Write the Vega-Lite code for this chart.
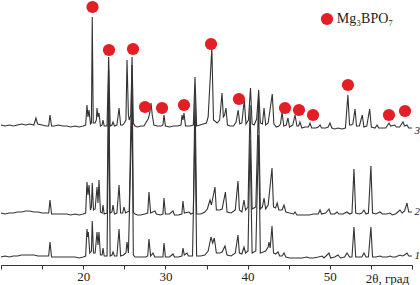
{
  "$schema": "https://vega.github.io/schema/vega-lite/v6.json",
  "width": 411,
  "height": 265,
  "autosize": {"type": "none"},
  "padding": {"left": 1, "top": 0, "right": 8, "bottom": 20},
  "background": "white",
  "config": {"view": {"stroke": null}},
  "datasets": {
    "curves": [
      {"c":3,"t":10,"v":140},{"c":3,"t":10.5,"v":139},{"c":3,"t":11,"v":140},{"c":3,"t":11.5,"v":139},{"c":3,"t":12,"v":140},{"c":3,"t":12.5,"v":141},{"c":3,"t":13,"v":140},{"c":3,"t":13.5,"v":141},{"c":3,"t":14,"v":140},{"c":3,"t":14.25,"v":147},{"c":3,"t":14.45,"v":141},{"c":3,"t":15,"v":140},{"c":3,"t":15.5,"v":139},{"c":3,"t":15.8,"v":139},{"c":3,"t":15.96,"v":150},{"c":3,"t":16.15,"v":139},{"c":3,"t":16.5,"v":139},{"c":3,"t":17,"v":140},{"c":3,"t":17.5,"v":139},{"c":3,"t":18,"v":139},{"c":3,"t":18.5,"v":138},{"c":3,"t":19,"v":139},{"c":3,"t":19.5,"v":138},{"c":3,"t":20,"v":139},{"c":3,"t":20.3,"v":140},{"c":3,"t":20.46,"v":160},{"c":3,"t":20.58,"v":148},{"c":3,"t":20.71,"v":155},{"c":3,"t":20.88,"v":141},{"c":3,"t":21,"v":142},{"c":3,"t":21.1,"v":248},{"c":3,"t":21.22,"v":142},{"c":3,"t":21.45,"v":142},{"c":3,"t":21.6,"v":145},{"c":3,"t":21.68,"v":157},{"c":3,"t":21.8,"v":148},{"c":3,"t":21.92,"v":152},{"c":3,"t":22.1,"v":139},{"c":3,"t":22.3,"v":140},{"c":3,"t":22.41,"v":145},{"c":3,"t":22.55,"v":139},{"c":3,"t":22.9,"v":139},{"c":3,"t":23.1,"v":208},{"c":3,"t":23.28,"v":139},{"c":3,"t":23.5,"v":140},{"c":3,"t":23.63,"v":143},{"c":3,"t":23.8,"v":139},{"c":3,"t":24.1,"v":140},{"c":3,"t":24.36,"v":157},{"c":3,"t":24.55,"v":140},{"c":3,"t":24.8,"v":140},{"c":3,"t":25,"v":142},{"c":3,"t":25.2,"v":145},{"c":3,"t":25.33,"v":205},{"c":3,"t":25.5,"v":150},{"c":3,"t":25.6,"v":145},{"c":3,"t":25.8,"v":150},{"c":3,"t":25.94,"v":208},{"c":3,"t":26.1,"v":142},{"c":3,"t":26.3,"v":139},{"c":3,"t":26.6,"v":138},{"c":3,"t":27,"v":139},{"c":3,"t":27.4,"v":139},{"c":3,"t":27.6,"v":142},{"c":3,"t":27.9,"v":146},{"c":3,"t":28.1,"v":152},{"c":3,"t":28.25,"v":162},{"c":3,"t":28.4,"v":150},{"c":3,"t":28.6,"v":140},{"c":3,"t":29,"v":139},{"c":3,"t":29.5,"v":139},{"c":3,"t":29.7,"v":140},{"c":3,"t":29.83,"v":150},{"c":3,"t":30,"v":139},{"c":3,"t":30.5,"v":138},{"c":3,"t":31,"v":139},{"c":3,"t":31.5,"v":139},{"c":3,"t":31.9,"v":140},{"c":3,"t":32.02,"v":150},{"c":3,"t":32.14,"v":145},{"c":3,"t":32.26,"v":152},{"c":3,"t":32.45,"v":139},{"c":3,"t":33,"v":139},{"c":3,"t":33.4,"v":140},{"c":3,"t":33.6,"v":188},{"c":3,"t":33.8,"v":139},{"c":3,"t":34.2,"v":140},{"c":3,"t":34.6,"v":141},{"c":3,"t":35,"v":142},{"c":3,"t":35.2,"v":148},{"c":3,"t":35.65,"v":217},{"c":3,"t":35.85,"v":145},{"c":3,"t":36.3,"v":142},{"c":3,"t":36.6,"v":145},{"c":3,"t":36.89,"v":172},{"c":3,"t":37.05,"v":148},{"c":3,"t":37.2,"v":150},{"c":3,"t":37.37,"v":157},{"c":3,"t":37.55,"v":140},{"c":3,"t":37.9,"v":139},{"c":3,"t":38.3,"v":139},{"c":3,"t":38.6,"v":143},{"c":3,"t":38.85,"v":155},{"c":3,"t":39.05,"v":141},{"c":3,"t":39.3,"v":142},{"c":3,"t":39.6,"v":165},{"c":3,"t":39.8,"v":141},{"c":3,"t":40.1,"v":145},{"c":3,"t":40.35,"v":177},{"c":3,"t":40.55,"v":141},{"c":3,"t":40.8,"v":140},{"c":3,"t":41.1,"v":146},{"c":3,"t":41.35,"v":175},{"c":3,"t":41.55,"v":142},{"c":3,"t":41.8,"v":141},{"c":3,"t":42,"v":157},{"c":3,"t":42.2,"v":140},{"c":3,"t":42.5,"v":142},{"c":3,"t":43,"v":171},{"c":3,"t":43.2,"v":141},{"c":3,"t":43.5,"v":138},{"c":3,"t":43.8,"v":139},{"c":3,"t":44,"v":141},{"c":3,"t":44.19,"v":153},{"c":3,"t":44.4,"v":139},{"c":3,"t":44.7,"v":140},{"c":3,"t":44.91,"v":147},{"c":3,"t":45.1,"v":138},{"c":3,"t":45.5,"v":140},{"c":3,"t":45.77,"v":150},{"c":3,"t":46,"v":139},{"c":3,"t":46.2,"v":139},{"c":3,"t":46.37,"v":143},{"c":3,"t":46.6,"v":137},{"c":3,"t":47,"v":138},{"c":3,"t":47.4,"v":138},{"c":3,"t":47.59,"v":142},{"c":3,"t":47.8,"v":137},{"c":3,"t":48.3,"v":137},{"c":3,"t":48.6,"v":138},{"c":3,"t":48.81,"v":140},{"c":3,"t":49,"v":137},{"c":3,"t":49.5,"v":137},{"c":3,"t":49.8,"v":138},{"c":3,"t":50.02,"v":142},{"c":3,"t":50.25,"v":137},{"c":3,"t":50.6,"v":136},{"c":3,"t":51,"v":137},{"c":3,"t":51.5,"v":136},{"c":3,"t":51.9,"v":137},{"c":3,"t":52.2,"v":170},{"c":3,"t":52.4,"v":140},{"c":3,"t":52.6,"v":140},{"c":3,"t":52.8,"v":141},{"c":3,"t":53.07,"v":156},{"c":3,"t":53.25,"v":139},{"c":3,"t":53.6,"v":139},{"c":3,"t":53.95,"v":150},{"c":3,"t":54.15,"v":138},{"c":3,"t":54.5,"v":139},{"c":3,"t":54.85,"v":156},{"c":3,"t":55.05,"v":138},{"c":3,"t":55.5,"v":137},{"c":3,"t":55.75,"v":140},{"c":3,"t":55.95,"v":137},{"c":3,"t":56.3,"v":137},{"c":3,"t":56.8,"v":137},{"c":3,"t":57.2,"v":142},{"c":3,"t":57.4,"v":139},{"c":3,"t":57.9,"v":140},{"c":3,"t":58.1,"v":138},{"c":3,"t":58.5,"v":138},{"c":3,"t":58.9,"v":143},{"c":3,"t":59.1,"v":139},{"c":3,"t":59.39,"v":140},{"c":3,"t":59.6,"v":137},{"c":3,"t":60,"v":137},

      {"c":2,"t":10,"v":52},{"c":2,"t":10.5,"v":51},{"c":2,"t":11,"v":52},{"c":2,"t":11.5,"v":52},{"c":2,"t":12,"v":53},{"c":2,"t":12.5,"v":53},{"c":2,"t":13,"v":54},{"c":2,"t":13.5,"v":54},{"c":2,"t":14,"v":53},{"c":2,"t":14.5,"v":53},{"c":2,"t":15,"v":52},{"c":2,"t":15.5,"v":52},{"c":2,"t":15.8,"v":52},{"c":2,"t":15.96,"v":65},{"c":2,"t":16.15,"v":51},{"c":2,"t":16.5,"v":51},{"c":2,"t":17,"v":51},{"c":2,"t":17.5,"v":51},{"c":2,"t":18,"v":51},{"c":2,"t":18.5,"v":50},{"c":2,"t":19,"v":51},{"c":2,"t":19.5,"v":50},{"c":2,"t":20,"v":51},{"c":2,"t":20.3,"v":52},{"c":2,"t":20.46,"v":83},{"c":2,"t":20.58,"v":70},{"c":2,"t":20.71,"v":80},{"c":2,"t":20.88,"v":55},{"c":2,"t":21,"v":58},{"c":2,"t":21.1,"v":82},{"c":2,"t":21.25,"v":55},{"c":2,"t":21.45,"v":56},{"c":2,"t":21.68,"v":78},{"c":2,"t":21.8,"v":62},{"c":2,"t":21.92,"v":85},{"c":2,"t":22.1,"v":53},{"c":2,"t":22.3,"v":52},{"c":2,"t":22.41,"v":60},{"c":2,"t":22.55,"v":51},{"c":2,"t":22.9,"v":52},{"c":2,"t":23.1,"v":195},{"c":2,"t":23.28,"v":52},{"c":2,"t":23.5,"v":53},{"c":2,"t":23.63,"v":60},{"c":2,"t":23.8,"v":51},{"c":2,"t":24.1,"v":52},{"c":2,"t":24.36,"v":80},{"c":2,"t":24.55,"v":52},{"c":2,"t":24.8,"v":52},{"c":2,"t":24.96,"v":58},{"c":2,"t":25.15,"v":52},{"c":2,"t":25.6,"v":54},{"c":2,"t":25.94,"v":200},{"c":2,"t":26.1,"v":53},{"c":2,"t":26.3,"v":51},{"c":2,"t":26.6,"v":50},{"c":2,"t":27,"v":50},{"c":2,"t":27.5,"v":51},{"c":2,"t":27.85,"v":52},{"c":2,"t":28,"v":73},{"c":2,"t":28.2,"v":52},{"c":2,"t":28.73,"v":54},{"c":2,"t":28.9,"v":51},{"c":2,"t":29.4,"v":50},{"c":2,"t":29.7,"v":51},{"c":2,"t":29.83,"v":67},{"c":2,"t":30,"v":51},{"c":2,"t":30.5,"v":51},{"c":2,"t":30.92,"v":54},{"c":2,"t":31.1,"v":50},{"c":2,"t":31.6,"v":50},{"c":2,"t":32,"v":51},{"c":2,"t":32.14,"v":64},{"c":2,"t":32.3,"v":52},{"c":2,"t":32.87,"v":53},{"c":2,"t":33.1,"v":51},{"c":2,"t":33.4,"v":52},{"c":2,"t":33.6,"v":175},{"c":2,"t":33.8,"v":51},{"c":2,"t":34.3,"v":51},{"c":2,"t":34.8,"v":53},{"c":2,"t":35.1,"v":56},{"c":2,"t":35.43,"v":65},{"c":2,"t":35.6,"v":60},{"c":2,"t":36.03,"v":78},{"c":2,"t":36.2,"v":55},{"c":2,"t":36.6,"v":55},{"c":2,"t":36.9,"v":56},{"c":2,"t":37.3,"v":73},{"c":2,"t":37.5,"v":53},{"c":2,"t":38,"v":52},{"c":2,"t":38.5,"v":55},{"c":2,"t":38.83,"v":84},{"c":2,"t":39,"v":55},{"c":2,"t":39.3,"v":53},{"c":2,"t":39.56,"v":65},{"c":2,"t":39.75,"v":55},{"c":2,"t":40.05,"v":58},{"c":2,"t":40.3,"v":160},{"c":2,"t":40.55,"v":56},{"c":2,"t":41,"v":58},{"c":2,"t":41.33,"v":165},{"c":2,"t":41.55,"v":56},{"c":2,"t":41.8,"v":58},{"c":2,"t":42,"v":67},{"c":2,"t":42.2,"v":56},{"c":2,"t":42.5,"v":60},{"c":2,"t":42.97,"v":97},{"c":2,"t":43.15,"v":58},{"c":2,"t":43.4,"v":57},{"c":2,"t":43.6,"v":62},{"c":2,"t":43.8,"v":55},{"c":2,"t":44.2,"v":55},{"c":2,"t":44.43,"v":60},{"c":2,"t":44.65,"v":53},{"c":2,"t":45.1,"v":52},{"c":2,"t":45.6,"v":51},{"c":2,"t":45.77,"v":53},{"c":2,"t":46,"v":50},{"c":2,"t":46.5,"v":50},{"c":2,"t":47,"v":50},{"c":2,"t":47.5,"v":50},{"c":2,"t":48,"v":51},{"c":2,"t":48.6,"v":51},{"c":2,"t":48.81,"v":55},{"c":2,"t":49,"v":51},{"c":2,"t":49.5,"v":52},{"c":2,"t":49.9,"v":56},{"c":2,"t":50.1,"v":51},{"c":2,"t":50.6,"v":51},{"c":2,"t":50.88,"v":53},{"c":2,"t":51.1,"v":51},{"c":2,"t":51.6,"v":51},{"c":2,"t":52.09,"v":53},{"c":2,"t":52.4,"v":51},{"c":2,"t":52.7,"v":52},{"c":2,"t":52.94,"v":96},{"c":2,"t":53.15,"v":52},{"c":2,"t":53.6,"v":51},{"c":2,"t":53.9,"v":52},{"c":2,"t":54.16,"v":55},{"c":2,"t":54.4,"v":51},{"c":2,"t":54.7,"v":52},{"c":2,"t":55,"v":99},{"c":2,"t":55.2,"v":52},{"c":2,"t":55.6,"v":51},{"c":2,"t":56.1,"v":53},{"c":2,"t":56.4,"v":51},{"c":2,"t":56.9,"v":51},{"c":2,"t":57.32,"v":52},{"c":2,"t":57.6,"v":50},{"c":2,"t":58,"v":51},{"c":2,"t":58.54,"v":55},{"c":2,"t":58.8,"v":52},{"c":2,"t":59.1,"v":54},{"c":2,"t":59.39,"v":62},{"c":2,"t":59.6,"v":53},{"c":2,"t":60,"v":53},

      {"c":1,"t":10,"v":8},{"c":1,"t":10.5,"v":9},{"c":1,"t":11,"v":8},{"c":1,"t":11.5,"v":9},{"c":1,"t":12,"v":9},{"c":1,"t":12.5,"v":10},{"c":1,"t":13,"v":10},{"c":1,"t":13.5,"v":10},{"c":1,"t":14,"v":10},{"c":1,"t":14.5,"v":9},{"c":1,"t":15,"v":9},{"c":1,"t":15.5,"v":9},{"c":1,"t":15.8,"v":9},{"c":1,"t":15.96,"v":23},{"c":1,"t":16.15,"v":8},{"c":1,"t":16.5,"v":8},{"c":1,"t":17,"v":8},{"c":1,"t":17.5,"v":8},{"c":1,"t":18,"v":8},{"c":1,"t":18.5,"v":8},{"c":1,"t":19,"v":8},{"c":1,"t":19.5,"v":7},{"c":1,"t":20,"v":8},{"c":1,"t":20.3,"v":9},{"c":1,"t":20.46,"v":36},{"c":1,"t":20.55,"v":28},{"c":1,"t":20.62,"v":33},{"c":1,"t":20.8,"v":12},{"c":1,"t":21,"v":14},{"c":1,"t":21.1,"v":44},{"c":1,"t":21.25,"v":12},{"c":1,"t":21.45,"v":12},{"c":1,"t":21.68,"v":33},{"c":1,"t":21.8,"v":20},{"c":1,"t":21.92,"v":33},{"c":1,"t":22.1,"v":10},{"c":1,"t":22.3,"v":10},{"c":1,"t":22.41,"v":17},{"c":1,"t":22.55,"v":9},{"c":1,"t":22.9,"v":9},{"c":1,"t":23.1,"v":165},{"c":1,"t":23.28,"v":9},{"c":1,"t":23.5,"v":10},{"c":1,"t":23.63,"v":13},{"c":1,"t":23.8,"v":9},{"c":1,"t":24.1,"v":9},{"c":1,"t":24.36,"v":36},{"c":1,"t":24.55,"v":9},{"c":1,"t":24.9,"v":10},{"c":1,"t":25.2,"v":12},{"c":1,"t":25.33,"v":23},{"c":1,"t":25.5,"v":12},{"c":1,"t":25.94,"v":160},{"c":1,"t":26.1,"v":10},{"c":1,"t":26.3,"v":8},{"c":1,"t":26.7,"v":8},{"c":1,"t":27.2,"v":8},{"c":1,"t":27.6,"v":8},{"c":1,"t":27.85,"v":9},{"c":1,"t":28,"v":26},{"c":1,"t":28.2,"v":9},{"c":1,"t":28.49,"v":12},{"c":1,"t":28.7,"v":8},{"c":1,"t":29.2,"v":8},{"c":1,"t":29.7,"v":8},{"c":1,"t":29.83,"v":22},{"c":1,"t":30,"v":8},{"c":1,"t":30.5,"v":8},{"c":1,"t":30.92,"v":11},{"c":1,"t":31.1,"v":8},{"c":1,"t":31.6,"v":8},{"c":1,"t":32,"v":9},{"c":1,"t":32.14,"v":17},{"c":1,"t":32.3,"v":10},{"c":1,"t":32.63,"v":12},{"c":1,"t":32.8,"v":9},{"c":1,"t":33.3,"v":9},{"c":1,"t":33.6,"v":140},{"c":1,"t":33.8,"v":9},{"c":1,"t":34.3,"v":9},{"c":1,"t":34.8,"v":10},{"c":1,"t":35.2,"v":14},{"c":1,"t":35.55,"v":28},{"c":1,"t":35.75,"v":22},{"c":1,"t":35.95,"v":27},{"c":1,"t":36.2,"v":12},{"c":1,"t":36.6,"v":12},{"c":1,"t":36.9,"v":13},{"c":1,"t":37.25,"v":19},{"c":1,"t":37.5,"v":10},{"c":1,"t":38,"v":9},{"c":1,"t":38.5,"v":12},{"c":1,"t":38.83,"v":30},{"c":1,"t":39,"v":12},{"c":1,"t":39.3,"v":11},{"c":1,"t":39.56,"v":18},{"c":1,"t":39.75,"v":12},{"c":1,"t":40.05,"v":14},{"c":1,"t":40.3,"v":125},{"c":1,"t":40.55,"v":12},{"c":1,"t":41,"v":14},{"c":1,"t":41.33,"v":130},{"c":1,"t":41.55,"v":12},{"c":1,"t":41.9,"v":13},{"c":1,"t":42.2,"v":14},{"c":1,"t":42.5,"v":18},{"c":1,"t":42.6,"v":23},{"c":1,"t":42.75,"v":17},{"c":1,"t":42.97,"v":39},{"c":1,"t":43.15,"v":12},{"c":1,"t":43.4,"v":11},{"c":1,"t":43.7,"v":13},{"c":1,"t":43.9,"v":9},{"c":1,"t":44.2,"v":9},{"c":1,"t":44.43,"v":12},{"c":1,"t":44.65,"v":8},{"c":1,"t":45.1,"v":7},{"c":1,"t":45.6,"v":7},{"c":1,"t":46.1,"v":7},{"c":1,"t":46.6,"v":7},{"c":1,"t":47.23,"v":8},{"c":1,"t":47.5,"v":7},{"c":1,"t":48,"v":7},{"c":1,"t":48.6,"v":8},{"c":1,"t":49.06,"v":9},{"c":1,"t":49.3,"v":7},{"c":1,"t":49.9,"v":12},{"c":1,"t":50.1,"v":7},{"c":1,"t":50.6,"v":8},{"c":1,"t":51,"v":10},{"c":1,"t":51.3,"v":7},{"c":1,"t":51.8,"v":8},{"c":1,"t":52.09,"v":12},{"c":1,"t":52.4,"v":8},{"c":1,"t":52.7,"v":8},{"c":1,"t":52.94,"v":38},{"c":1,"t":53.15,"v":8},{"c":1,"t":53.6,"v":8},{"c":1,"t":53.9,"v":8},{"c":1,"t":54.16,"v":12},{"c":1,"t":54.4,"v":8},{"c":1,"t":54.7,"v":8},{"c":1,"t":55,"v":38},{"c":1,"t":55.2,"v":8},{"c":1,"t":55.6,"v":8},{"c":1,"t":56.11,"v":9},{"c":1,"t":56.4,"v":8},{"c":1,"t":57,"v":8},{"c":1,"t":57.32,"v":9},{"c":1,"t":57.6,"v":8},{"c":1,"t":58,"v":8},{"c":1,"t":58.54,"v":10},{"c":1,"t":58.8,"v":9},{"c":1,"t":59.1,"v":10},{"c":1,"t":59.39,"v":12},{"c":1,"t":59.6,"v":9},{"c":1,"t":60,"v":9}
    ],
    "dots": [
      {"t":21.13,"v":258},{"t":23.14,"v":215},{"t":26.06,"v":216},{"t":27.52,"v":158},{"t":29.59,"v":157},{"t":32.26,"v":160},{"t":35.55,"v":221},{"t":38.95,"v":166},{"t":44.55,"v":157},{"t":46.25,"v":155},{"t":47.96,"v":150},{"t":52.21,"v":180},{"t":57.2,"v":150},{"t":59.15,"v":154},{"t":49.66,"v":246}
    ],
    "legend": [{"t":50.85,"v":246,"s":"Mg₃BPO₇"}],
    "names": [{"t":60.3,"v":134,"s":"3"},{"t":60.3,"v":53,"s":"2"},{"t":60.3,"v":9,"s":"1"}]
  },
  "layer": [
    {
      "data": {"name": "curves"},
      "mark": {"type": "line", "color": "#333333", "strokeWidth": 1.1},
      "encoding": {
        "x": {"field": "t", "type": "quantitative", "scale": {"domain": [10, 60], "nice": false},
          "axis": {"values": [10,15,20,25,30,35,40,45,50,55,60],
            "labelExpr": "datum.value==20||datum.value==30||datum.value==40||datum.value==50 ? datum.label : ''",
            "grid": false, "domainColor": "#333", "tickColor": "#333", "tickSize": 4,
            "labelFont": "Liberation Serif", "labelFontSize": 13, "labelColor": "#222", "labelPadding": 1, "labelFlush": false,
            "title": "2θ, град", "titleFont": "Liberation Serif", "titleFontSize": 13, "titleFontWeight": "normal", "titleColor": "#222",
            "titleX": 386, "titleY": 13, "titleAlign": "center", "titleBaseline": "middle"}},
        "y": {"field": "v", "type": "quantitative", "scale": {"domain": [0, 265], "nice": false}, "axis": null},
        "detail": {"field": "c"}
      }
    },
    {
      "data": {"name": "dots"},
      "mark": {"type": "circle", "color": "#e31e24", "opacity": 1, "size": 150},
      "encoding": {
        "x": {"field": "t", "type": "quantitative"},
        "y": {"field": "v", "type": "quantitative"}
      }
    },
    {
      "data": {"name": "legend"},
      "mark": {"type": "text", "align": "left", "baseline": "middle", "font": "Liberation Serif", "fontSize": 14, "color": "#222"},
      "encoding": {
        "x": {"field": "t", "type": "quantitative"},
        "y": {"field": "v", "type": "quantitative"},
        "text": {"field": "s"}
      }
    },
    {
      "data": {"name": "names"},
      "mark": {"type": "text", "align": "left", "baseline": "middle", "font": "Liberation Serif", "fontSize": 11, "fontStyle": "italic", "color": "#222"},
      "encoding": {
        "x": {"field": "t", "type": "quantitative"},
        "y": {"field": "v", "type": "quantitative"},
        "text": {"field": "s"}
      }
    }
  ]
}
